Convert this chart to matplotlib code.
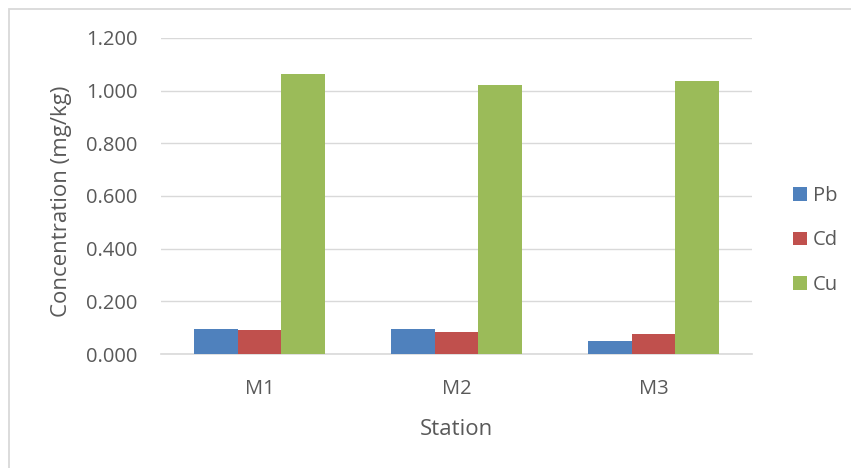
import matplotlib
matplotlib.use("Agg")
import matplotlib.pyplot as plt
import numpy as np
from matplotlib.patches import Rectangle

stations = ["M1", "M2", "M3"]
pb = [0.094, 0.094, 0.048]
cd = [0.090, 0.084, 0.076]
cu = [1.063, 1.022, 1.036]
series_names = ["Pb", "Cd", "Cu"]
colors = ["#4F81BD", "#C0504D", "#9BBB59"]
yticks = [0.0, 0.2, 0.4, 0.6, 0.8, 1.0, 1.2]

plt.rcParams['font.family'] = ['Open Sans', 'DejaVu Sans']
txt = "#595959"

W, H = 851, 468
fig = plt.figure(figsize=(W/100, H/100), dpi=100)
fig.patches.append(Rectangle((8.5/W, -0.2), 1.2, 1.2 - 9/H, transform=fig.transFigure,
                             fill=False, edgecolor="#D9D9D9", linewidth=1.3, zorder=0))
ax = fig.add_axes([161/W, 1 - 354/H, (752-161)/W, (354-38)/H])

x = np.arange(len(stations))
bw = 0.222
for i, (name, vals, c) in enumerate(zip(series_names, [pb, cd, cu], colors)):
    ax.bar(x + (i - 1) * bw, vals, width=bw, color=c, label=name, zorder=3)

ax.set_xlim(-0.5, 2.5)
ax.set_ylim(0, 1.2)
ax.set_yticks(yticks)
ax.set_yticklabels([f"{v:.3f}" for v in yticks])
ax.set_xticks(x)
ax.set_xticklabels(stations)
ax.grid(axis='y', color="#D9D9D9", linewidth=1, zorder=0)
for s in ["top", "right", "left"]:
    ax.spines[s].set_visible(False)
ax.spines["bottom"].set_color("#D9D9D9")
ax.spines["bottom"].set_linewidth(1.2)
ax.tick_params(axis='both', length=0, labelsize=14.5, colors=txt)
ax.tick_params(axis='y', pad=17)
ax.tick_params(axis='x', pad=18)
ax.set_ylabel("Concentration (mg/kg)", fontsize=16, color=txt)
ax.yaxis.set_label_coords(-(161 - 72) / 591, (354 - 201) / 316)
ax.set_xlabel("Station", fontsize=16, color=txt)
ax.xaxis.set_label_coords(0.5, -(419 - 354) / 316)

ax.legend(loc='center left', bbox_to_anchor=((793 - 161) / 591, (354 - 240.5) / 316),
          frameon=False, borderpad=0, borderaxespad=0,
          fontsize=14.5, labelcolor=txt, handlelength=0.68, handleheight=0.68,
          labelspacing=1.2, handletextpad=0.3)

fig.savefig("out.png", dpi=100)
